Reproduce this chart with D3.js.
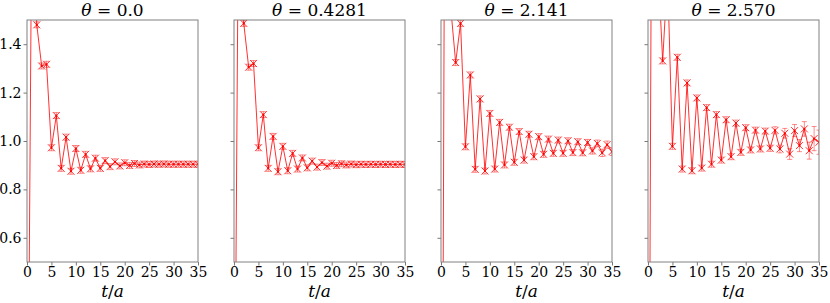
<!DOCTYPE html>
<html>
<head>
<meta charset="utf-8">
<script src="https://cdn.jsdelivr.net/npm/d3@7"></script>
<style>
  body { margin: 0; background: #fff; }
  svg text { font-family: "DejaVu Serif", serif; fill: #000; }
</style>
</head>
<body>
<script>
// effective mass plots, one panel per theta

var tSteps = d3.range(0, 36);
var thetaLabels = ["0.0", "0.4281", "2.141", "2.570"];
var xTicks = [0, 5, 10, 15, 20, 25, 30, 35];
var yTicks = [0.6, 0.8, 1.0, 1.2, 1.4];

var valsTheta0 = [-0.84, 2.02, 1.48, 1.31, 1.317, 0.972, 1.105, 0.887, 1.016, 0.875, 0.969, 0.879, 0.945, 0.885, 0.929, 0.887, 0.919, 0.894, 0.914, 0.897, 0.910, 0.899, 0.907, 0.901, 0.905, 0.903, 0.905, 0.904, 0.905, 0.904, 0.904, 0.904, 0.904, 0.904, 0.904, 0.904];
var valsTheta1 = [-0.7, 2.24, 1.486, 1.305, 1.32, 0.972, 1.109, 0.887, 1.019, 0.873, 0.978, 0.877, 0.949, 0.884, 0.930, 0.889, 0.917, 0.892, 0.911, 0.896, 0.908, 0.899, 0.906, 0.901, 0.905, 0.902, 0.904, 0.903, 0.904, 0.903, 0.904, 0.903, 0.904, 0.903, 0.904, 0.903];
var valsTheta2 = [-2.0, 3.5, 1.55, 1.324, 1.486, 0.976, 1.273, 0.883, 1.174, 0.876, 1.114, 0.884, 1.077, 0.901, 1.057, 0.912, 1.039, 0.921, 1.028, 0.935, 1.018, 0.945, 1.008, 0.949, 1.004, 0.949, 1.001, 0.952, 0.997, 0.951, 0.994, 0.959, 0.990, 0.951, 0.985, 0.956];
var valsTheta3 = [-1.55, 3.45, 1.75, 1.331, 1.69, 0.978, 1.346, 0.884, 1.24, 0.877, 1.178, 0.888, 1.138, 0.904, 1.109, 0.921, 1.088, 0.935, 1.074, 0.953, 1.055, 0.963, 1.045, 0.967, 1.041, 0.970, 1.044, 0.967, 1.032, 0.946, 1.043, 0.981, 1.050, 0.960, 1.010, 0.995];

var errTheta0 = [0.01, 0.01, 0.004, 0.003, 0.003, 0.003, 0.003, 0.003, 0.003, 0.003, 0.003, 0.003, 0.003, 0.003, 0.003, 0.003, 0.003, 0.003, 0.003, 0.003, 0.003, 0.003, 0.003, 0.003, 0.003, 0.003, 0.003, 0.003, 0.003, 0.003, 0.003, 0.003, 0.003, 0.003, 0.003, 0.003];
var errTheta1 = [0.01, 0.01, 0.004, 0.003, 0.003, 0.003, 0.003, 0.003, 0.003, 0.003, 0.003, 0.003, 0.003, 0.003, 0.003, 0.003, 0.003, 0.003, 0.003, 0.003, 0.003, 0.003, 0.003, 0.003, 0.003, 0.003, 0.003, 0.003, 0.003, 0.003, 0.003, 0.003, 0.003, 0.003, 0.003, 0.003];
var errTheta2 = [0.01, 0.01, 0.005, 0.004, 0.004, 0.004, 0.004, 0.004, 0.004, 0.004, 0.004, 0.004, 0.004, 0.004, 0.004, 0.004, 0.005, 0.005, 0.005, 0.005, 0.006, 0.006, 0.007, 0.007, 0.008, 0.008, 0.009, 0.010, 0.011, 0.012, 0.012, 0.013, 0.014, 0.015, 0.015, 0.016];
var errTheta3 = [0.01, 0.01, 0.006, 0.005, 0.005, 0.005, 0.005, 0.005, 0.005, 0.005, 0.005, 0.005, 0.005, 0.005, 0.006, 0.006, 0.008, 0.008, 0.009, 0.010, 0.010, 0.011, 0.012, 0.012, 0.012, 0.013, 0.015, 0.016, 0.020, 0.022, 0.025, 0.025, 0.030, 0.035, 0.050, 0.050];

var panelVals = [valsTheta0, valsTheta1, valsTheta2, valsTheta3];
var panelErrs = [errTheta0, errTheta1, errTheta2, errTheta3];

drawPanels();

function drawPanels(){
    var width = 830,
        height = 303;
    var panelLeft = [27, 234, 441, 648],
        panelW = 171,
        plotTop = 20,
        plotBottom = 262;
    var serif = "'DejaVu Serif', serif";

    var svg = d3.select("body")
        .append("svg")
        .attr("width", width)
        .attr("height", height);

    var y = d3.scaleLinear()
        .domain([0.5, 1.5])
        .range([plotBottom, plotTop]);

    panelVals.forEach(function(vals, i){
        var x = d3.scaleLinear()
            .domain([0, 35])
            .range([panelLeft[i], panelLeft[i] + panelW]);
        var errs = panelErrs[i];

        var g = svg.append("g");

        g.append("clipPath")
            .attr("id", "clip" + i)
            .append("rect")
            .attr("x", panelLeft[i])
            .attr("y", plotTop)
            .attr("width", panelW)
            .attr("height", plotBottom - plotTop);

        //axes
        var xAxis = g.append("g")
            .attr("transform", "translate(0," + plotBottom + ")")
            .call(d3.axisBottom(x).tickValues(xTicks).tickSize(3.5).tickPadding(2).tickFormat(d3.format("d")));
        var yAxis = g.append("g")
            .attr("transform", "translate(" + panelLeft[i] + ",0)")
            .call(d3.axisLeft(y).tickValues(yTicks).tickSize(3.5).tickPadding(2)
                .tickFormat(i == 0 ? d3.format(".1f") : function(){ return ""; }));
        [xAxis, yAxis].forEach(function(a){
            a.attr("font-size", null).attr("font-family", null);
            a.select(".domain").remove();
            a.selectAll("line").attr("stroke", "#555").attr("stroke-width", 0.8);
            a.selectAll("text")
                .style("font-family", serif)
                .style("font-size", "14px")
                .attr("fill", "#333");
        });

        var plot = g.append("g").attr("clip-path", "url(#clip" + i + ")");

        var line = d3.line()
            .x(function(d, j){ return x(tSteps[j]); })
            .y(function(d){ return y(d); });

        plot.append("path")
            .datum(vals)
            .attr("fill", "none")
            .attr("stroke", "#ff0000")
            .attr("stroke-opacity", 0.9)
            .attr("stroke-width", 0.9)
            .attr("d", line);

        //error bars with caps + x markers
        var pts = plot.selectAll(".pt")
            .data(vals)
            .enter()
            .append("g")
            .attr("class", "pt")
            .attr("transform", function(d, j){ return "translate(" + x(tSteps[j]) + "," + y(d) + ")"; });

        pts.append("path")
            .attr("fill", "none")
            .attr("stroke", "#ff0000")
            .attr("stroke-opacity", 0.45)
            .attr("stroke-width", 1)
            .attr("d", function(d, j){
                var up = Math.max(y(d) - y(d + errs[j]), 3),
                    dn = Math.max(y(d - errs[j]) - y(d), 3);
                return "M0," + (-up) + "V" + dn +
                    "M-2.5," + (-up) + "H2.5M-2.5," + dn + "H2.5";
            });

        pts.append("path")
            .attr("fill", "none")
            .attr("stroke", "#ff0000")
            .attr("stroke-opacity", 0.8)
            .attr("stroke-width", 1)
            .attr("d", "M-3.5,-3.5L3.5,3.5M-3.5,3.5L3.5,-3.5");

        pts.append("circle")
            .attr("r", 1.1)
            .attr("fill", "#ff0000");

        //frame
        g.append("rect")
            .attr("x", panelLeft[i])
            .attr("y", plotTop)
            .attr("width", panelW)
            .attr("height", plotBottom - plotTop)
            .attr("fill", "none")
            .attr("stroke", "#808080")
            .attr("stroke-width", 1);

        //title
        var title = g.append("text")
            .attr("x", panelLeft[i] + panelW / 2)
            .attr("y", 16)
            .attr("text-anchor", "middle")
            .style("font-family", serif)
            .style("font-size", "17px");
        title.append("tspan").style("font-style", "italic").text("θ");
        title.append("tspan").text(" = " + thetaLabels[i]);

        //x label
        var xl = g.append("text")
            .attr("x", panelLeft[i] + panelW / 2)
            .attr("y", 297)
            .attr("text-anchor", "middle")
            .style("font-family", serif)
            .style("font-size", "17px")
            .style("font-style", "italic");
        xl.append("tspan").text("t");
        xl.append("tspan").style("font-style", "normal").text("/");
        xl.append("tspan").text("a");
    });
}
</script>
</body>
</html>
